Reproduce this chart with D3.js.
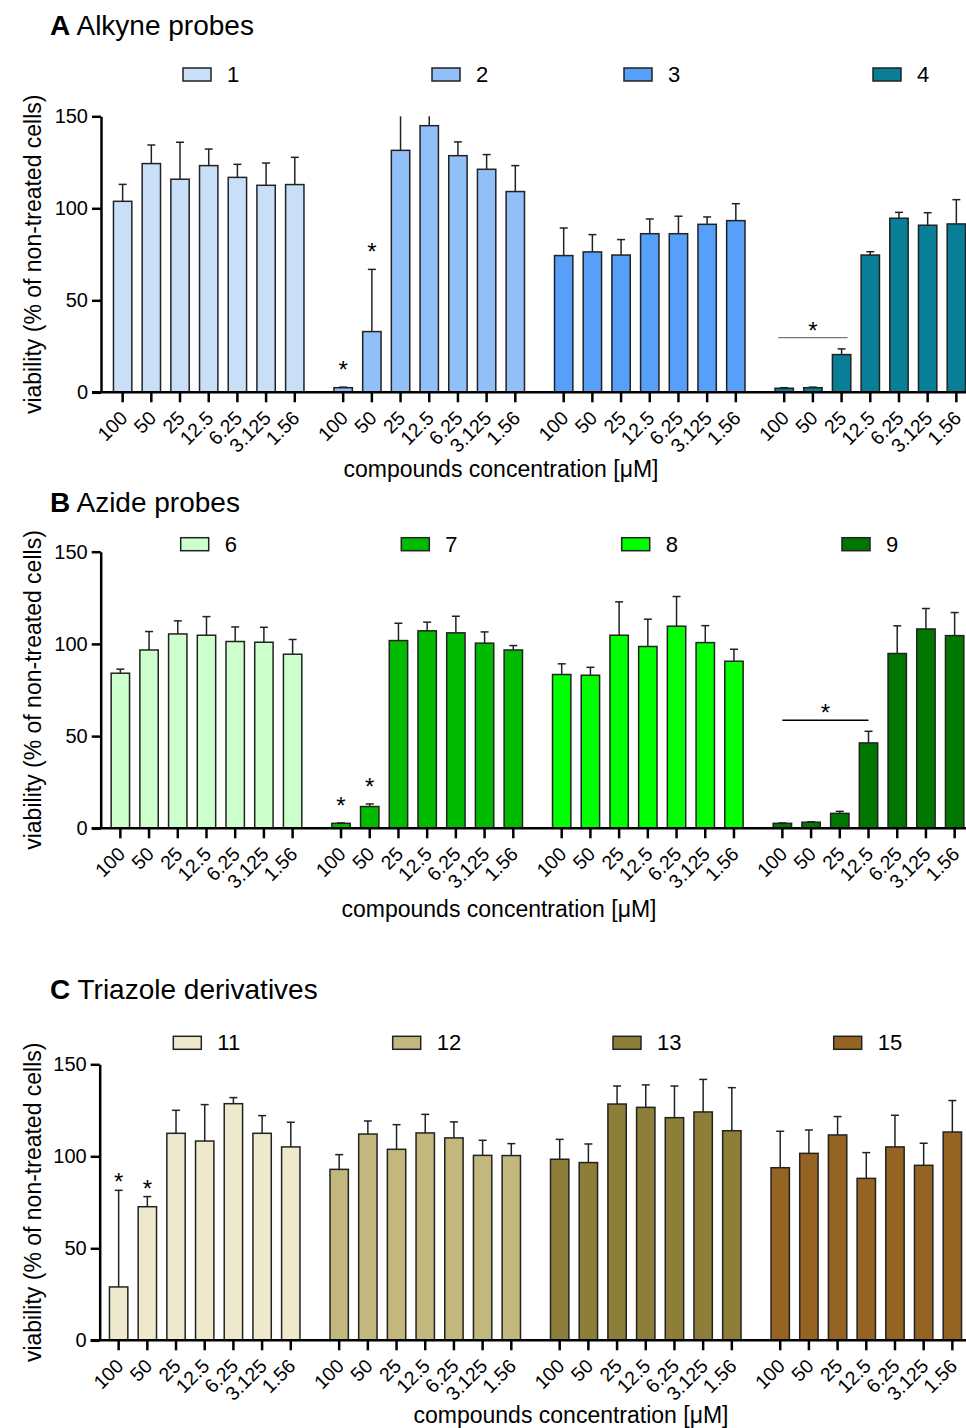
<!DOCTYPE html>
<html>
<head>
<meta charset="utf-8">
<script src="https://cdn.jsdelivr.net/npm/d3@7"></script>
<style>
  body { margin: 0; background: #fff; }
  svg { display: block; font-family: "Liberation Sans", Arial, sans-serif; }
</style>
</head>
<body>
<div id="chart"></div>
<script>
// concentrations on the x axis (same for every compound)
const concentrations = ["100", "50", "25", "12.5", "6.25", "3.125", "1.56"];

// A Alkyne probes
const alkyneNames = ["1", "2", "3", "4"];
const alkyneColors = ["#C9DFF8", "#91BFF8", "#56A0FA", "#087F96"];
const alkyneMean = [
  [103.8, 124.3, 115.8, 123.2, 116.8, 112.5, 112.9],
  [2.5, 33.0, 131.5, 144.9, 128.6, 121.2, 109.1],
  [74.3, 76.3, 74.6, 86.2, 86.2, 91.3, 93.3],
  [2.2, 2.5, 20.5, 74.6, 94.6, 90.8, 91.5]
];
const alkyneSD = [
  [9.2, 10.1, 20.1, 9.0, 7.1, 12.1, 14.8],
  [0.3, 33.8, 24.0, 8.0, 7.5, 8.0, 14.1],
  [15.0, 9.4, 8.4, 8.0, 9.5, 4.0, 9.2],
  [0.3, 0.3, 3.1, 1.8, 3.2, 6.8, 13.2]
];
const alkyneStars = [[1, 0], [1, 1]];           // [compound, concentration]
const alkyneBracket = {group: 3, from: 0, to: 2, value: 29.7};

// B Azide probes
const azideNames = ["6", "7", "8", "9"];
const azideColors = ["#CCFFCC", "#00BB00", "#00FF00", "#007700"];
const azideMean = [
  [84.1, 96.7, 105.4, 104.7, 101.3, 100.9, 94.4],
  [2.7, 11.8, 101.8, 107.1, 106.0, 100.4, 96.7],
  [83.4, 83.0, 104.7, 98.6, 109.6, 100.7, 90.6],
  [2.7, 3.3, 8.1, 46.3, 94.8, 108.1, 104.5]
];
const azideSD = [
  [2.2, 10.0, 7.1, 10.1, 7.9, 8.1, 8.0],
  [0.2, 1.4, 9.4, 4.7, 9.0, 6.1, 2.4],
  [5.8, 4.3, 18.1, 14.8, 16.1, 9.2, 6.5],
  [0.2, 0.2, 1.1, 6.3, 15.0, 11.1, 12.5]
];
const azideStars = [[1, 0], [1, 1]];
const azideBracket = {group: 3, from: 0, to: 3, value: 58.6};

// C Triazole derivatives
const triazoleNames = ["11", "12", "13", "15"];
const triazoleColors = ["#EEE8CC", "#C2B77D", "#8D7F3A", "#956422"];
const triazoleMean = [
  [29.0, 72.6, 112.5, 108.3, 128.6, 112.5, 105.1],
  [92.9, 112.1, 103.8, 112.7, 110.0, 100.5, 100.4],
  [98.4, 96.6, 128.4, 126.6, 121.0, 124.1, 113.9],
  [93.8, 101.6, 111.6, 88.0, 105.1, 95.1, 113.2]
];
const triazoleSD = [
  [52.5, 5.5, 12.5, 19.8, 3.3, 9.6, 13.4],
  [8.0, 7.1, 13.4, 10.1, 8.7, 8.2, 6.5],
  [10.8, 10.1, 9.8, 12.2, 17.2, 17.7, 23.4],
  [19.8, 12.7, 10.0, 14.0, 17.2, 12.0, 17.1]
];
const triazoleStars = [[0, 0], [0, 1]];

const yTicks = [0, 50, 100, 150];

const W = 966, H = 1428;
const svg = d3.select("#chart").append("svg")
    .attr("width", W)
    .attr("height", H);

function drawPanel(p) {
  const g = svg.append("g");

  const y = d3.scaleLinear().domain([0, 150]).range([p.bottom, p.top]);
  const xGroup = d3.scaleBand()
      .domain(p.names)
      .range(p.range)
      .paddingInner(0.0893)
      .paddingOuter(0);
  const xConc = d3.scaleBand()
      .domain(concentrations)
      .range([0, xGroup.bandwidth()])
      .paddingInner(0.36)
      .paddingOuter(0.18);
  const cx = (gi, ci) => xGroup(p.names[gi]) + xConc(concentrations[ci]) + xConc.bandwidth() / 2;

  // panel title
  const title = g.append("text")
      .attr("x", 50)
      .attr("y", p.titleY)
      .style("font-size", "28px");
  title.append("tspan").attr("font-weight", "bold").text(p.letter);
  title.append("tspan").text(" " + p.title);

  // legend
  p.names.forEach((name, i) => {
    g.append("rect")
        .attr("x", p.legendX[i]).attr("y", p.legendY)
        .attr("width", 28).attr("height", 13)
        .attr("fill", p.colors[i])
        .attr("stroke", "#222").attr("stroke-width", 1.5);
    g.append("text")
        .attr("x", p.legendX[i] + 44).attr("y", p.legendY + 14)
        .style("font-size", "22px")
        .text(name);
  });

  // bars
  const rows = [];
  p.mean.forEach((vals, gi) => vals.forEach((v, ci) => rows.push({gi, ci, v, sd: p.sd[gi][ci]})));

  g.append("g").selectAll("rect")
      .data(rows)
      .join("rect")
      .attr("x", d => xGroup(p.names[d.gi]) + xConc(concentrations[d.ci]))
      .attr("width", xConc.bandwidth())
      .attr("y", d => y(d.v))
      .attr("height", d => y(0) - y(d.v))
      .attr("fill", d => p.colors[d.gi])
      .attr("stroke", "#222")
      .attr("stroke-width", 1.5);

  // upper error bars (clipped at the axis maximum)
  const err = g.append("g").attr("stroke", "#222").attr("stroke-width", 1.5);
  err.selectAll("line.whisker")
      .data(rows)
      .join("line")
      .attr("class", "whisker")
      .attr("x1", d => cx(d.gi, d.ci)).attr("x2", d => cx(d.gi, d.ci))
      .attr("y1", d => y(d.v))
      .attr("y2", d => y(Math.min(150, d.v + d.sd)));
  err.selectAll("line.cap")
      .data(rows.filter(d => d.v + d.sd <= 150))
      .join("line")
      .attr("class", "cap")
      .attr("x1", d => cx(d.gi, d.ci) - 4).attr("x2", d => cx(d.gi, d.ci) + 4)
      .attr("y1", d => y(d.v + d.sd))
      .attr("y2", d => y(d.v + d.sd));

  // significance stars
  g.append("g").selectAll("text")
      .data(p.stars)
      .join("text")
      .attr("x", d => cx(d[0], d[1]))
      .attr("y", d => y(p.mean[d[0]][d[1]] + p.sd[d[0]][d[1]]) - p.starGap)
      .attr("text-anchor", "middle")
      .style("font-size", "24px")
      .text("*");

  if (p.bracket) {
    const b = p.bracket;
    const x1 = cx(b.group, b.from) - p.bracketPad;
    const x2 = cx(b.group, b.to) + p.bracketPad;
    g.append("line")
        .attr("x1", x1).attr("x2", x2)
        .attr("y1", y(b.value)).attr("y2", y(b.value))
        .attr("stroke", p.bracketColor)
        .attr("stroke-width", 1.3);
    g.append("text")
        .attr("x", (x1 + x2) / 2)
        .attr("y", y(b.value) + 1)
        .attr("text-anchor", "middle")
        .style("font-size", "24px")
        .text("*");
  }

  // y axis
  const yAxis = g.append("g")
      .attr("transform", `translate(${p.axisX},0)`)
      .call(d3.axisLeft(y).tickValues(yTicks).tickSize(9).tickSizeOuter(0).tickPadding(4));
  yAxis.select(".domain").attr("stroke", "#000").attr("stroke-width", 2.5);
  yAxis.selectAll(".tick line").attr("stroke", "#000").attr("stroke-width", 2.5);
  yAxis.selectAll(".tick text")
      .attr("fill", "#000")
      .style("font-size", "20px")
      .style("font-family", "'Liberation Sans', Arial, sans-serif");

  // x axis: one baseline, ticks and labels per compound group
  g.append("line")
      .attr("x1", p.axisX - 9).attr("x2", W)
      .attr("y1", y(0)).attr("y2", y(0))
      .attr("stroke", "#000").attr("stroke-width", 2.5);
  p.names.forEach(name => {
    const xa = g.append("g")
        .attr("transform", `translate(${xGroup(name)},${y(0)})`)
        .call(d3.axisBottom(xConc).tickSize(10).tickSizeOuter(0));
    xa.select(".domain").remove();
    xa.selectAll(".tick line").attr("stroke", "#000").attr("stroke-width", 2.5);
    xa.selectAll(".tick text")
        .attr("fill", "#000")
        .attr("x", 0).attr("y", 0).attr("dy", 0)
        .attr("text-anchor", "end")
        .attr("transform", "translate(6,27) rotate(-45)")
        .style("font-size", "19.5px")
        .style("font-family", "'Liberation Sans', Arial, sans-serif");
  });

  // axis titles
  g.append("text")
      .attr("transform", `translate(41,${(p.top + p.bottom) / 2}) rotate(-90)`)
      .attr("text-anchor", "middle")
      .style("font-size", "23px")
      .text("viability (% of non-treated cells)");
  g.append("text")
      .attr("x", p.xTitleX).attr("y", p.xTitleY)
      .attr("text-anchor", "middle")
      .style("font-size", "23px")
      .text("compounds concentration [μM]");
}

drawPanel({
  letter: "A", title: "Alkyne probes",
  names: alkyneNames, colors: alkyneColors, mean: alkyneMean, sd: alkyneSD,
  stars: alkyneStars, starGap: 9, bracket: alkyneBracket, bracketColor: "#777", bracketPad: 6,
  top: 116.3, bottom: 392.3, axisX: 101, range: [108.3, 970.7],
  titleY: 35, legendY: 68, legendX: [183, 432, 624, 873],
  xTitleX: 501, xTitleY: 477
});

drawPanel({
  letter: "B", title: "Azide probes",
  names: azideNames, colors: azideColors, mean: azideMean, sd: azideSD,
  stars: azideStars, starGap: 9, bracket: azideBracket, bracketColor: "#000", bracketPad: 0,
  top: 551.7, bottom: 828.3, axisX: 100.7, range: [106, 969],
  titleY: 512, legendY: 537.7, legendX: [180.7, 401.3, 621.7, 842],
  xTitleX: 499, xTitleY: 917
});

drawPanel({
  letter: "C", title: "Triazole derivatives",
  names: triazoleNames, colors: triazoleColors, mean: triazoleMean, sd: triazoleSD,
  stars: triazoleStars, starGap: 0,
  top: 1064.3, bottom: 1340.3, axisX: 99.7, range: [104.3, 966.7],
  titleY: 999, legendY: 1036.3, legendX: [173.3, 392.7, 613, 833.7],
  xTitleX: 571, xTitleY: 1423
});
</script>
</body>
</html>
